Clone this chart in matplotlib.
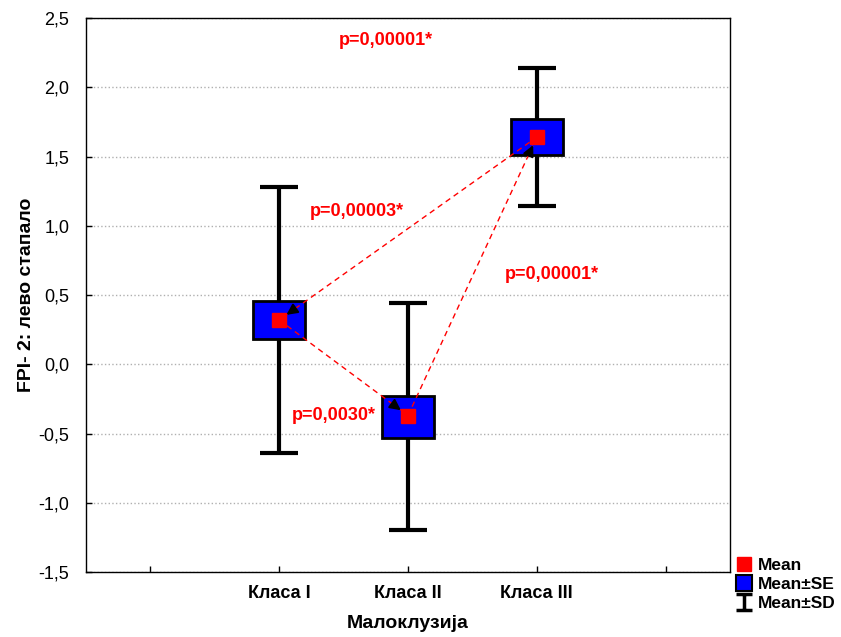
import numpy as np
import matplotlib.pyplot as plt
from matplotlib.lines import Line2D
from matplotlib.patches import Rectangle
from matplotlib.path import Path

plt.rcParams['font.family'] = ['Liberation Sans', 'DejaVu Sans']

groups = ["Класа I", "Класа II", "Класа III"]
means = [0.32, -0.37, 1.64]
se_lo = [0.18, -0.53, 1.51]
se_hi = [0.46, -0.23, 1.77]
sd_lo = [-0.64, -1.20, 1.14]
sd_hi = [1.28, 0.44, 2.14]

# comparisons between groups (index pairs), which end gets the arrow, p-values
pairs = [(0, 2), (0, 1), (1, 2)]
arrow_end = [0, 1, 2]
p_labels = ["p=0,00003*", "p=0,0030*", "p=0,00001*"]
p_pos = [(1.6, 1.1), (1.42, -0.37), (3.12, 0.65)]
top_label = "p=0,00001*"

xs = np.arange(1, len(groups) + 1)

fig = plt.figure(figsize=(8.41, 6.37), dpi=100)
ax = fig.add_axes([0.1023, 0.102, 0.7657, 0.8697])

ax.set_xlim(-0.5, 4.5)
ax.set_ylim(-1.5, 2.5)
yt = np.arange(-1.5, 2.51, 0.5)
ax.set_yticks(yt)
ax.set_yticklabels([f"{v:.1f}".replace('.', ',') for v in yt], fontsize=13)
ax.set_xticks(np.arange(0, 5))
ax.set_xticklabels([""] + groups + [""], fontsize=13, fontweight='bold')
ax.tick_params(direction='in', length=4, width=1)
ax.tick_params(axis='y', pad=12)
ax.tick_params(axis='x', pad=9)
ax.yaxis.grid(True, color='#b0b0b0', linestyle=':', linewidth=1)
ax.set_axisbelow(True)
for s in ax.spines.values():
    s.set_linewidth(1)

# SD whiskers
ax.errorbar(xs, means, yerr=[np.array(means) - sd_lo, np.array(sd_hi) - means],
            fmt='none', ecolor='black', elinewidth=3, capsize=14, capthick=3, zorder=2)

# SE boxes
bw = 0.4
for x, lo, hi in zip(xs, se_lo, se_hi):
    ax.add_patch(Rectangle((x - bw / 2, lo), bw, hi - lo, facecolor='#0000ff',
                           edgecolor='black', linewidth=2, zorder=3))

# means
ax.plot(xs, means, 's', color='red', markersize=10, zorder=4, linestyle='none')

# dashed comparison lines with black arrow heads
for (a, b), e in zip(pairs, arrow_end):
    ax.plot([xs[a], xs[b]], [means[a], means[b]], '--', color='red',
            linewidth=1, zorder=5, dashes=(4, 3))
    o = b if e == a else a
    dx = xs[o] - xs[e]
    dy = means[o] - means[e]
    # direction in pixel units (x unit ~128px, 1.0 y ~139px)
    vx, vy = dx * 128, dy * 138.6
    n = np.hypot(vx, vy)
    ux, uy = vx / n / 128, vy / n / 138.6
    ax.annotate('', xy=(xs[e] + 6 * ux, means[e] + 6 * uy),
                xytext=(xs[e] + 20 * ux, means[e] + 20 * uy),
                arrowprops=dict(arrowstyle='-|>', color='black', lw=1.5, mutation_scale=16),
                zorder=6)

for lab, (px, py) in zip(p_labels, p_pos):
    ax.text(px, py, lab, color='red', fontsize=13, fontweight='bold', ha='center', va='center', zorder=7)
ax.text(1.83, 2.34, top_label, color='red', fontsize=13, fontweight='bold', ha='center', va='center')

ax.set_xlabel("Малоклузија", fontsize=14, fontweight='bold', labelpad=10)
ax.set_ylabel("FPI- 2: лево стапало", fontsize=14, fontweight='bold')
ax.yaxis.set_label_coords(-0.08, 0.5)

ibar = Path([(-1, 1), (1, 1), (0, 1), (0, -1), (-1, -1), (1, -1)],
            [Path.MOVETO, Path.LINETO, Path.MOVETO, Path.LINETO, Path.MOVETO, Path.LINETO])
handles = [
    Line2D([], [], marker='s', color='red', linestyle='none', markersize=10),
    Line2D([], [], marker='s', markerfacecolor='#0000ff', markeredgecolor='black',
           markeredgewidth=1.5, linestyle='none', markersize=11),
    Line2D([], [], marker=ibar, color='black', markeredgewidth=2.5, linestyle='none', markersize=12),
]
fig.legend(handles, ['Mean', 'Mean±SE', 'Mean±SD'], loc='upper left',
           bbox_to_anchor=(0.862, 0.143), frameon=False, prop=dict(size=12.5, weight='bold'),
           handlelength=0.8, handletextpad=0.4, labelspacing=0.22, borderpad=0.2)

fig.savefig('out.png', dpi=100)
